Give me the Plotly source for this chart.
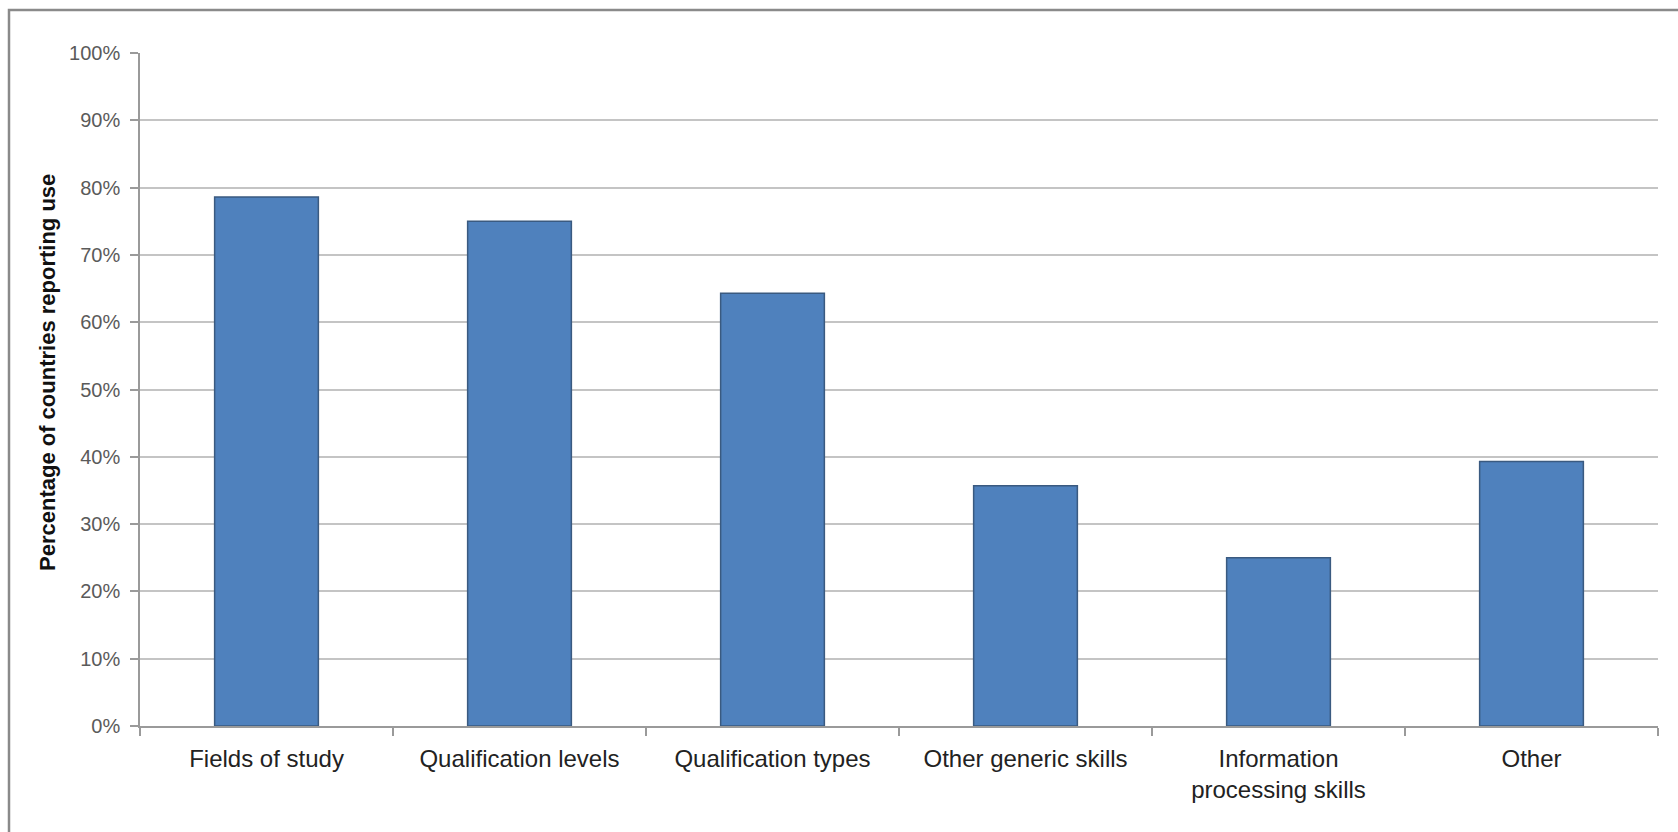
import plotly.graph_objects as go

categories = ["Fields of study", "Qualification levels", "Qualification types",
              "Other generic skills", "Information<br>processing skills", "Other"]
values = [0.786, 0.75, 0.643, 0.357, 0.25, 0.393]
y_ticks = [i / 10 for i in range(11)]
y_tick_labels = [f"{i*10}%" for i in range(11)]
y_title = "Percentage of countries reporting use"

W, H = 1678, 832
px_l, px_r, px_t, px_b = 140, 1658, 53, 726

fig = go.Figure()
fig.add_trace(go.Bar(
    x=categories, y=values,
    marker=dict(color="#4F81BD", line=dict(color="#3A5A80", width=1.5)),
    hoverinfo="x+y",
))

fig.update_layout(
    width=W, height=H,
    margin=dict(l=0, r=0, t=0, b=0, autoexpand=False),
    paper_bgcolor="white", plot_bgcolor="white",
    font=dict(family="Liberation Sans, Arial, sans-serif", color="#222"),
    bargap=0.59,
    showlegend=False,
    xaxis=dict(
        domain=[px_l / W, px_r / W],
        automargin=False,
        showline=True, linecolor="#9A9A9A", linewidth=1.5,
        ticks="outside", ticklen=8, tickcolor="#9A9A9A", tickwidth=1.5,
        tickson="boundaries",
        tickfont=dict(size=24, color="#222"),
        ticklabelstandoff=10,
        showgrid=False,
    ),
    yaxis=dict(
        domain=[(H - px_b) / H, (H - px_t) / H],
        automargin=False,
        range=[0, 1],
        tickvals=y_ticks, ticktext=y_tick_labels,
        showline=True, linecolor="#9A9A9A", linewidth=1.5,
        ticks="outside", ticklen=8, tickcolor="#9A9A9A", tickwidth=1.5,
        tickfont=dict(size=20, color="#5A5A5A"),
        ticklabelstandoff=6,
        showgrid=True, gridcolor="#C4C4C4", gridwidth=1.5,
        zeroline=False,
    ),
    annotations=[dict(
        text=f"<b>{y_title}</b>", textangle=-90,
        x=47 / W, y=1 - 373 / H, xref="paper", yref="paper",
        xanchor="center", yanchor="middle", showarrow=False,
        font=dict(size=22, color="#111"),
    )],
    shapes=[dict(
        type="rect", xref="paper", yref="paper",
        x0=9 / W, x1=1.02, y0=-0.02, y1=1 - 10 / H,
        line=dict(color="#8A8A8A", width=2.5),
    )],
)

fig.write_html("out.html")
